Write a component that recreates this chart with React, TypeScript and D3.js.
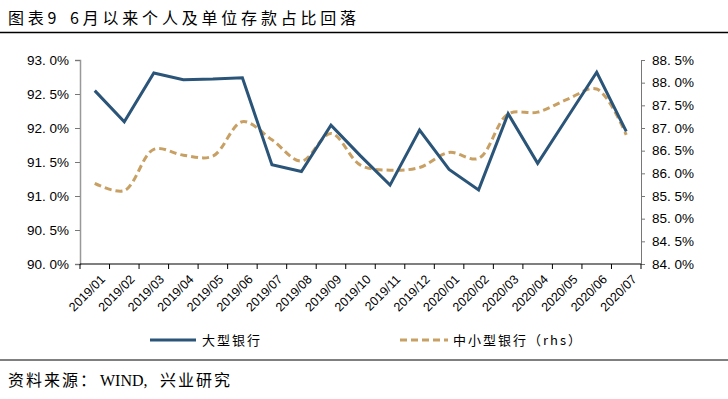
import { useEffect, useRef } from "react";
import * as d3 from "d3";

// months on the x axis
const months = [
  "2019/01", "2019/02", "2019/03", "2019/04", "2019/05", "2019/06", "2019/07",
  "2019/08", "2019/09", "2019/10", "2019/11", "2019/12", "2020/01", "2020/02",
  "2020/03", "2020/04", "2020/05", "2020/06", "2020/07",
];

// 大型银行 (left axis, %)
const bigBanks = [
  92.55, 92.09, 92.81, 92.71, 92.72, 92.74, 91.46, 91.36, 92.04, 91.59,
  91.16, 91.97, 91.39, 91.09, 92.21, 91.48, 92.15, 92.82, 91.95,
];

// 中小型银行 (right axis, %)
const smallBanks = [
  85.78, 85.62, 86.53, 86.4, 86.38, 87.14, 86.74, 86.27, 86.88, 86.18,
  86.07, 86.13, 86.46, 86.33, 87.31, 87.35, 87.63, 87.86, 86.85,
];

const leftTicks = [90, 90.5, 91, 91.5, 92, 92.5, 93];
const rightTicks = [84, 84.5, 85, 85.5, 86, 86.5, 87, 87.5, 88, 88.5];

const BLUE = "#2a5478";
const TAN = "#c8a064";

export default function App() {
  const svgRef = useRef<SVGSVGElement>(null);
  const width = 728;
  const height = 399;

  useEffect(() => {
    if (!svgRef.current) return;
    const svg = d3.select(svgRef.current);
    svg.selectAll("*").remove();

    const left = 80;
    const right = 641;
    const top = 60;
    const bottom = 264;
    const fmt = (v: number) => v.toFixed(1).replace(".", ". ") + "%";
    const axisFont = "Liberation Sans, Arial, sans-serif";
    const cjkFont = "'Noto Sans CJK SC', sans-serif";

    const x = d3.scaleBand().domain(months).range([left, right]);
    const cx = (m: string) => x(m)! + x.bandwidth() / 2;
    const yL = d3.scaleLinear().domain([90, 93]).range([bottom, top]);
    const yR = d3.scaleLinear().domain([84, 88.5]).range([bottom, top]);

    // title
    const t = svg.append("text")
      .attr("y", 24)
      .attr("font-family", cjkFont)
      .attr("font-size", 16)
      .attr("letter-spacing", 3.8)
      .attr("fill", "#000");
    t.append("tspan").attr("x", 8).text("图表9");
    t.append("tspan").attr("x", 70).text("6月以来个人及单位存款占比回落");
    svg.append("line")
      .attr("x1", 0).attr("x2", width)
      .attr("y1", 32.5).attr("y2", 32.5)
      .attr("stroke", "#000").attr("stroke-width", 1.5);

    // left axis
    const gL = svg.append("g").attr("transform", `translate(${left},0)`)
      .call(d3.axisLeft(yL).tickValues(leftTicks).tickFormat((d) => fmt(+d)).tickSize(5).tickPadding(6));
    gL.select(".domain").attr("stroke", "#999").attr("stroke-width", 1.5);
    gL.selectAll(".tick line").attr("stroke", "#777");
    gL.selectAll("text").attr("font-family", axisFont).attr("font-size", 13.5).attr("fill", "#000");

    // right axis
    const gR = svg.append("g").attr("transform", `translate(${right},0)`)
      .call(d3.axisRight(yR).tickValues(rightTicks).tickFormat((d) => fmt(+d)).tickSize(4).tickPadding(7));
    gR.select(".domain").attr("stroke", "#777");
    gR.selectAll(".tick line").attr("stroke", "#777");
    gR.selectAll("text").attr("font-family", axisFont).attr("font-size", 13.5).attr("fill", "#000");

    // bottom axis with ticks at band boundaries
    const gB = svg.append("g");
    gB.append("line")
      .attr("x1", left).attr("x2", right)
      .attr("y1", bottom).attr("y2", bottom)
      .attr("stroke", "#000").attr("stroke-width", 1.2);
    const bounds = months.map((m) => x(m)!).concat([right]);
    gB.selectAll("line.tk")
      .data(bounds)
      .enter()
      .append("line")
      .attr("class", "tk")
      .attr("x1", (d) => d).attr("x2", (d) => d)
      .attr("y1", bottom).attr("y2", bottom + 5)
      .attr("stroke", "#000");
    gB.selectAll("text")
      .data(months)
      .enter()
      .append("text")
      .attr("transform", (d) => `translate(${cx(d) + 5},${bottom + 10}) rotate(-45)`)
      .attr("text-anchor", "end")
      .attr("dy", "0.7em")
      .attr("font-family", axisFont)
      .attr("font-size", 12.5)
      .attr("fill", "#000")
      .text((d) => d);

    // small / medium banks (dashed, smoothed)
    const lineR = d3.line<number>()
      .x((_, i) => cx(months[i]))
      .y((d) => yR(d))
      .curve(d3.curveCatmullRom.alpha(0.5));
    svg.append("path")
      .datum(smallBanks)
      .attr("d", lineR)
      .attr("fill", "none")
      .attr("stroke", TAN)
      .attr("stroke-width", 3)
      .attr("stroke-dasharray", "7,4");

    // large banks
    const lineL = d3.line<number>()
      .x((_, i) => cx(months[i]))
      .y((d) => yL(d));
    svg.append("path")
      .datum(bigBanks)
      .attr("d", lineL)
      .attr("fill", "none")
      .attr("stroke", BLUE)
      .attr("stroke-width", 3)
      .attr("stroke-linejoin", "miter");

    // legend
    const lg = svg.append("g");
    lg.append("line")
      .attr("x1", 150).attr("x2", 196).attr("y1", 340).attr("y2", 340)
      .attr("stroke", BLUE).attr("stroke-width", 3);
    lg.append("text")
      .attr("x", 202).attr("y", 345)
      .attr("font-family", cjkFont).attr("font-size", 13).attr("letter-spacing", 2)
      .attr("fill", "#000")
      .text("大型银行");
    lg.append("line")
      .attr("x1", 400).attr("x2", 448).attr("y1", 340).attr("y2", 340)
      .attr("stroke", TAN).attr("stroke-width", 3).attr("stroke-dasharray", "7,4");
    lg.append("text")
      .attr("x", 453).attr("y", 345)
      .attr("font-family", cjkFont).attr("font-size", 13).attr("letter-spacing", 2)
      .attr("fill", "#000")
      .text("中小型银行（rhs）");

    // source
    svg.append("line")
      .attr("x1", 0).attr("x2", width)
      .attr("y1", 360).attr("y2", 360)
      .attr("stroke", "#000").attr("stroke-width", 1);
    const s = svg.append("text")
      .attr("y", 386)
      .attr("font-size", 16)
      .attr("fill", "#000");
    s.append("tspan").attr("x", 8).attr("font-family", cjkFont).attr("letter-spacing", 2).text("资料来源：");
    s.append("tspan").attr("x", 100).attr("font-family", "Liberation Serif, serif").text("WIND,");
    s.append("tspan").attr("x", 160).attr("font-family", cjkFont).attr("letter-spacing", 2).text("兴业研究");
  }, []);

  return (
    <svg
      ref={svgRef}
      width={width}
      height={height}
      style={{ position: "absolute", left: 0, top: 0, background: "#fff" }}
    />
  );
}
